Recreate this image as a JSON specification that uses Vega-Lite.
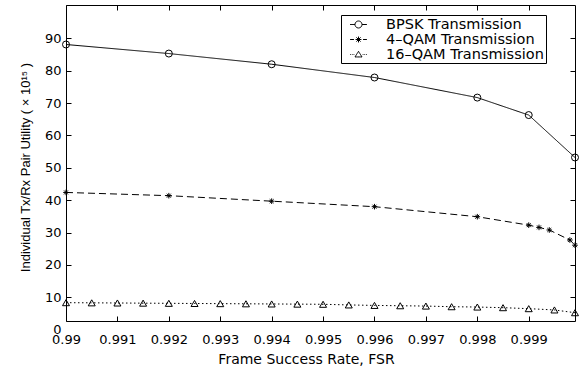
{
  "$schema": "https://vega.github.io/schema/vega-lite/v6.json",
  "width": 509,
  "height": 316,
  "autosize": "none",
  "padding": {"left": 66, "top": 5, "right": 10, "bottom": 50},
  "background": "white",
  "config": {
    "view": {"stroke": "black", "strokeWidth": 1},
    "axis": {"grid": false, "domain": false, "tickColor": "black", "tickSize": -5, "labelColor": "black", "titleColor": "black", "labelFont": "DejaVu Sans", "labelFontSize": 13, "titleFontWeight": "normal"}
  },
  "data": {
    "values": [
      {"fsr": 0.99, "utility": 88.1, "scheme": "BPSK Transmission"},
      {"fsr": 0.992, "utility": 85.3, "scheme": "BPSK Transmission"},
      {"fsr": 0.994, "utility": 82.0, "scheme": "BPSK Transmission"},
      {"fsr": 0.996, "utility": 77.9, "scheme": "BPSK Transmission"},
      {"fsr": 0.998, "utility": 71.7, "scheme": "BPSK Transmission"},
      {"fsr": 0.999, "utility": 66.3, "scheme": "BPSK Transmission"},
      {"fsr": 0.9999, "utility": 53.2, "scheme": "BPSK Transmission"},
      {"fsr": 0.99, "utility": 42.4, "scheme": "4–QAM Transmission"},
      {"fsr": 0.992, "utility": 41.4, "scheme": "4–QAM Transmission"},
      {"fsr": 0.994, "utility": 39.7, "scheme": "4–QAM Transmission"},
      {"fsr": 0.996, "utility": 38.0, "scheme": "4–QAM Transmission"},
      {"fsr": 0.998, "utility": 34.9, "scheme": "4–QAM Transmission"},
      {"fsr": 0.999, "utility": 32.3, "scheme": "4–QAM Transmission"},
      {"fsr": 0.9992, "utility": 31.6, "scheme": "4–QAM Transmission"},
      {"fsr": 0.9994, "utility": 30.8, "scheme": "4–QAM Transmission"},
      {"fsr": 0.9998, "utility": 27.7, "scheme": "4–QAM Transmission"},
      {"fsr": 0.9999, "utility": 26.1, "scheme": "4–QAM Transmission"},
      {"fsr": 0.99, "utility": 8.35, "scheme": "16–QAM Transmission"},
      {"fsr": 0.9905, "utility": 8.3, "scheme": "16–QAM Transmission"},
      {"fsr": 0.991, "utility": 8.25, "scheme": "16–QAM Transmission"},
      {"fsr": 0.9915, "utility": 8.2, "scheme": "16–QAM Transmission"},
      {"fsr": 0.992, "utility": 8.15, "scheme": "16–QAM Transmission"},
      {"fsr": 0.9925, "utility": 8.1, "scheme": "16–QAM Transmission"},
      {"fsr": 0.993, "utility": 8.05, "scheme": "16–QAM Transmission"},
      {"fsr": 0.9935, "utility": 8.0, "scheme": "16–QAM Transmission"},
      {"fsr": 0.994, "utility": 7.95, "scheme": "16–QAM Transmission"},
      {"fsr": 0.9945, "utility": 7.9, "scheme": "16–QAM Transmission"},
      {"fsr": 0.995, "utility": 7.85, "scheme": "16–QAM Transmission"},
      {"fsr": 0.9955, "utility": 7.65, "scheme": "16–QAM Transmission"},
      {"fsr": 0.996, "utility": 7.5, "scheme": "16–QAM Transmission"},
      {"fsr": 0.9965, "utility": 7.4, "scheme": "16–QAM Transmission"},
      {"fsr": 0.997, "utility": 7.3, "scheme": "16–QAM Transmission"},
      {"fsr": 0.9975, "utility": 7.1, "scheme": "16–QAM Transmission"},
      {"fsr": 0.998, "utility": 7.0, "scheme": "16–QAM Transmission"},
      {"fsr": 0.9985, "utility": 6.8, "scheme": "16–QAM Transmission"},
      {"fsr": 0.999, "utility": 6.5, "scheme": "16–QAM Transmission"},
      {"fsr": 0.9995, "utility": 6.1, "scheme": "16–QAM Transmission"},
      {"fsr": 0.9999, "utility": 5.25, "scheme": "16–QAM Transmission"}
    ]
  },
  "resolve": {"axis": {"x": "independent", "y": "independent"}},
  "layer": [
    {
      "mark": {"type": "line", "color": "black", "strokeWidth": 1},
      "encoding": {
        "x": {
          "field": "fsr", "type": "quantitative",
          "scale": {"domain": [0.99, 0.9999], "nice": false, "zero": false},
          "axis": {
            "orient": "bottom",
            "values": [0.99, 0.991, 0.992, 0.993, 0.994, 0.995, 0.996, 0.997, 0.998, 0.999],
            "format": ".3~f",
            "labelPadding": 17,
            "labelFlush": false,
            "labelOverlap": false,
            "title": "Frame Success Rate, FSR",
            "titleFont": "DejaVu Sans",
            "titleFontSize": 14,
            "titleX": 240,
            "titleY": 42,
            "titleBaseline": "alphabetic"
          }
        },
        "y": {
          "field": "utility", "type": "quantitative",
          "scale": {"domain": [0, 100.3], "range": [324.7, 0], "nice": false, "zero": false},
          "axis": {
            "orient": "left",
            "values": [0, 10, 20, 30, 40, 50, 60, 70, 80, 90],
            "tickColor": {"condition": {"test": "datum.value < 1", "value": "transparent"}, "value": "black"},
            "labelPadding": 10,
            "labelOverlap": false,
            "labelFlush": false,
            "title": "Individual Tx/Rx Pair Utility ( × 10¹⁵ )",
            "titleFont": "Liberation Sans",
            "titleFontSize": 13,
            "titleX": -40.5,
            "titleY": 162,
            "titleBaseline": "middle",
            "titleAngle": -90
          }
        },
        "strokeDash": {
          "field": "scheme", "type": "nominal",
          "scale": {"domain": ["BPSK Transmission", "4–QAM Transmission", "16–QAM Transmission"], "range": [[1, 0], [7, 4], [1.5, 2.5]]},
          "legend": {
            "title": null,
            "orient": "none",
            "legendX": 275,
            "legendY": 10,
            "padding": 2,
            "strokeColor": "black",
            "fillColor": "white",
            "cornerRadius": 0,
            "symbolOffset": 8,
            "symbolSize": 196,
            "symbolType": {"expr": "datum.value === 'BPSK Transmission' ? 'M-1.2,0L-0.5,0M0.5,0L1.2,0M-0.5,0A0.5,0.5 0 1,0 0.5,0A0.5,0.5 0 1,0 -0.5,0' : (datum.value === '4–QAM Transmission' ? 'M-1.2,0L-0.65,0M0.65,0L1.2,0M0,-0.42L0,0.42M-0.42,0L0.42,0M-0.3,-0.3L0.3,0.3M-0.3,0.3L0.3,-0.3' : 'M-1.2,0L-1.1,0M-0.95,0L-0.85,0M-0.7,0L-0.6,0M0.6,0L0.7,0M0.85,0L0.95,0M1.1,0L1.2,0M0,-0.45L0.1,-0.29M0.1,-0.29L0.2,-0.13M0.2,-0.13L0.3,0.03M0.3,0.03L0.4,0.19M0.4,0.19L0.5,0.35M0.5,0.35L0.3,0.35M0.3,0.35L0.1,0.35M0.1,0.35L-0.1,0.35M-0.1,0.35L-0.3,0.35M-0.3,0.35L-0.5,0.35M-0.5,0.35L-0.4,0.19M-0.4,0.19L-0.3,0.03M-0.3,0.03L-0.2,-0.13M-0.2,-0.13L-0.1,-0.29M-0.1,-0.29L0,-0.45')"},
            "symbolFillColor": "transparent",
            "symbolStrokeColor": "black",
            "symbolStrokeWidth": 1,
            "labelOffset": 20,
            "rowPadding": 0,
            "labelFont": "DejaVu Sans",
            "labelFontSize": 14.5,
            "labelColor": "black",
            "labelLimit": 300
          }
        }
      }
    },
    {
      "mark": {"type": "point", "filled": false, "stroke": "black", "strokeWidth": 1, "opacity": 1, "size": 49},
      "encoding": {
        "x": {
          "field": "fsr", "type": "quantitative",
          "axis": {"orient": "top", "values": [0.99, 0.991, 0.992, 0.993, 0.994, 0.995, 0.996, 0.997, 0.998, 0.999], "labels": false, "title": null}
        },
        "y": {
          "field": "utility", "type": "quantitative",
          "axis": {"orient": "right", "values": [10, 20, 30, 40, 50, 60, 70, 80, 90], "labels": false, "title": null}
        },
        "shape": {
          "field": "scheme", "type": "nominal",
          "scale": {"domain": ["16–QAM Transmission", "BPSK Transmission", "4–QAM Transmission"], "range": ["triangle-up", "circle", "M0,-0.8L0,0.8M-0.8,0L0.8,0M-0.56,-0.56L0.56,0.56M-0.56,0.56L0.56,-0.56"]},
          "legend": null
        }
      }
    }
  ]
}
